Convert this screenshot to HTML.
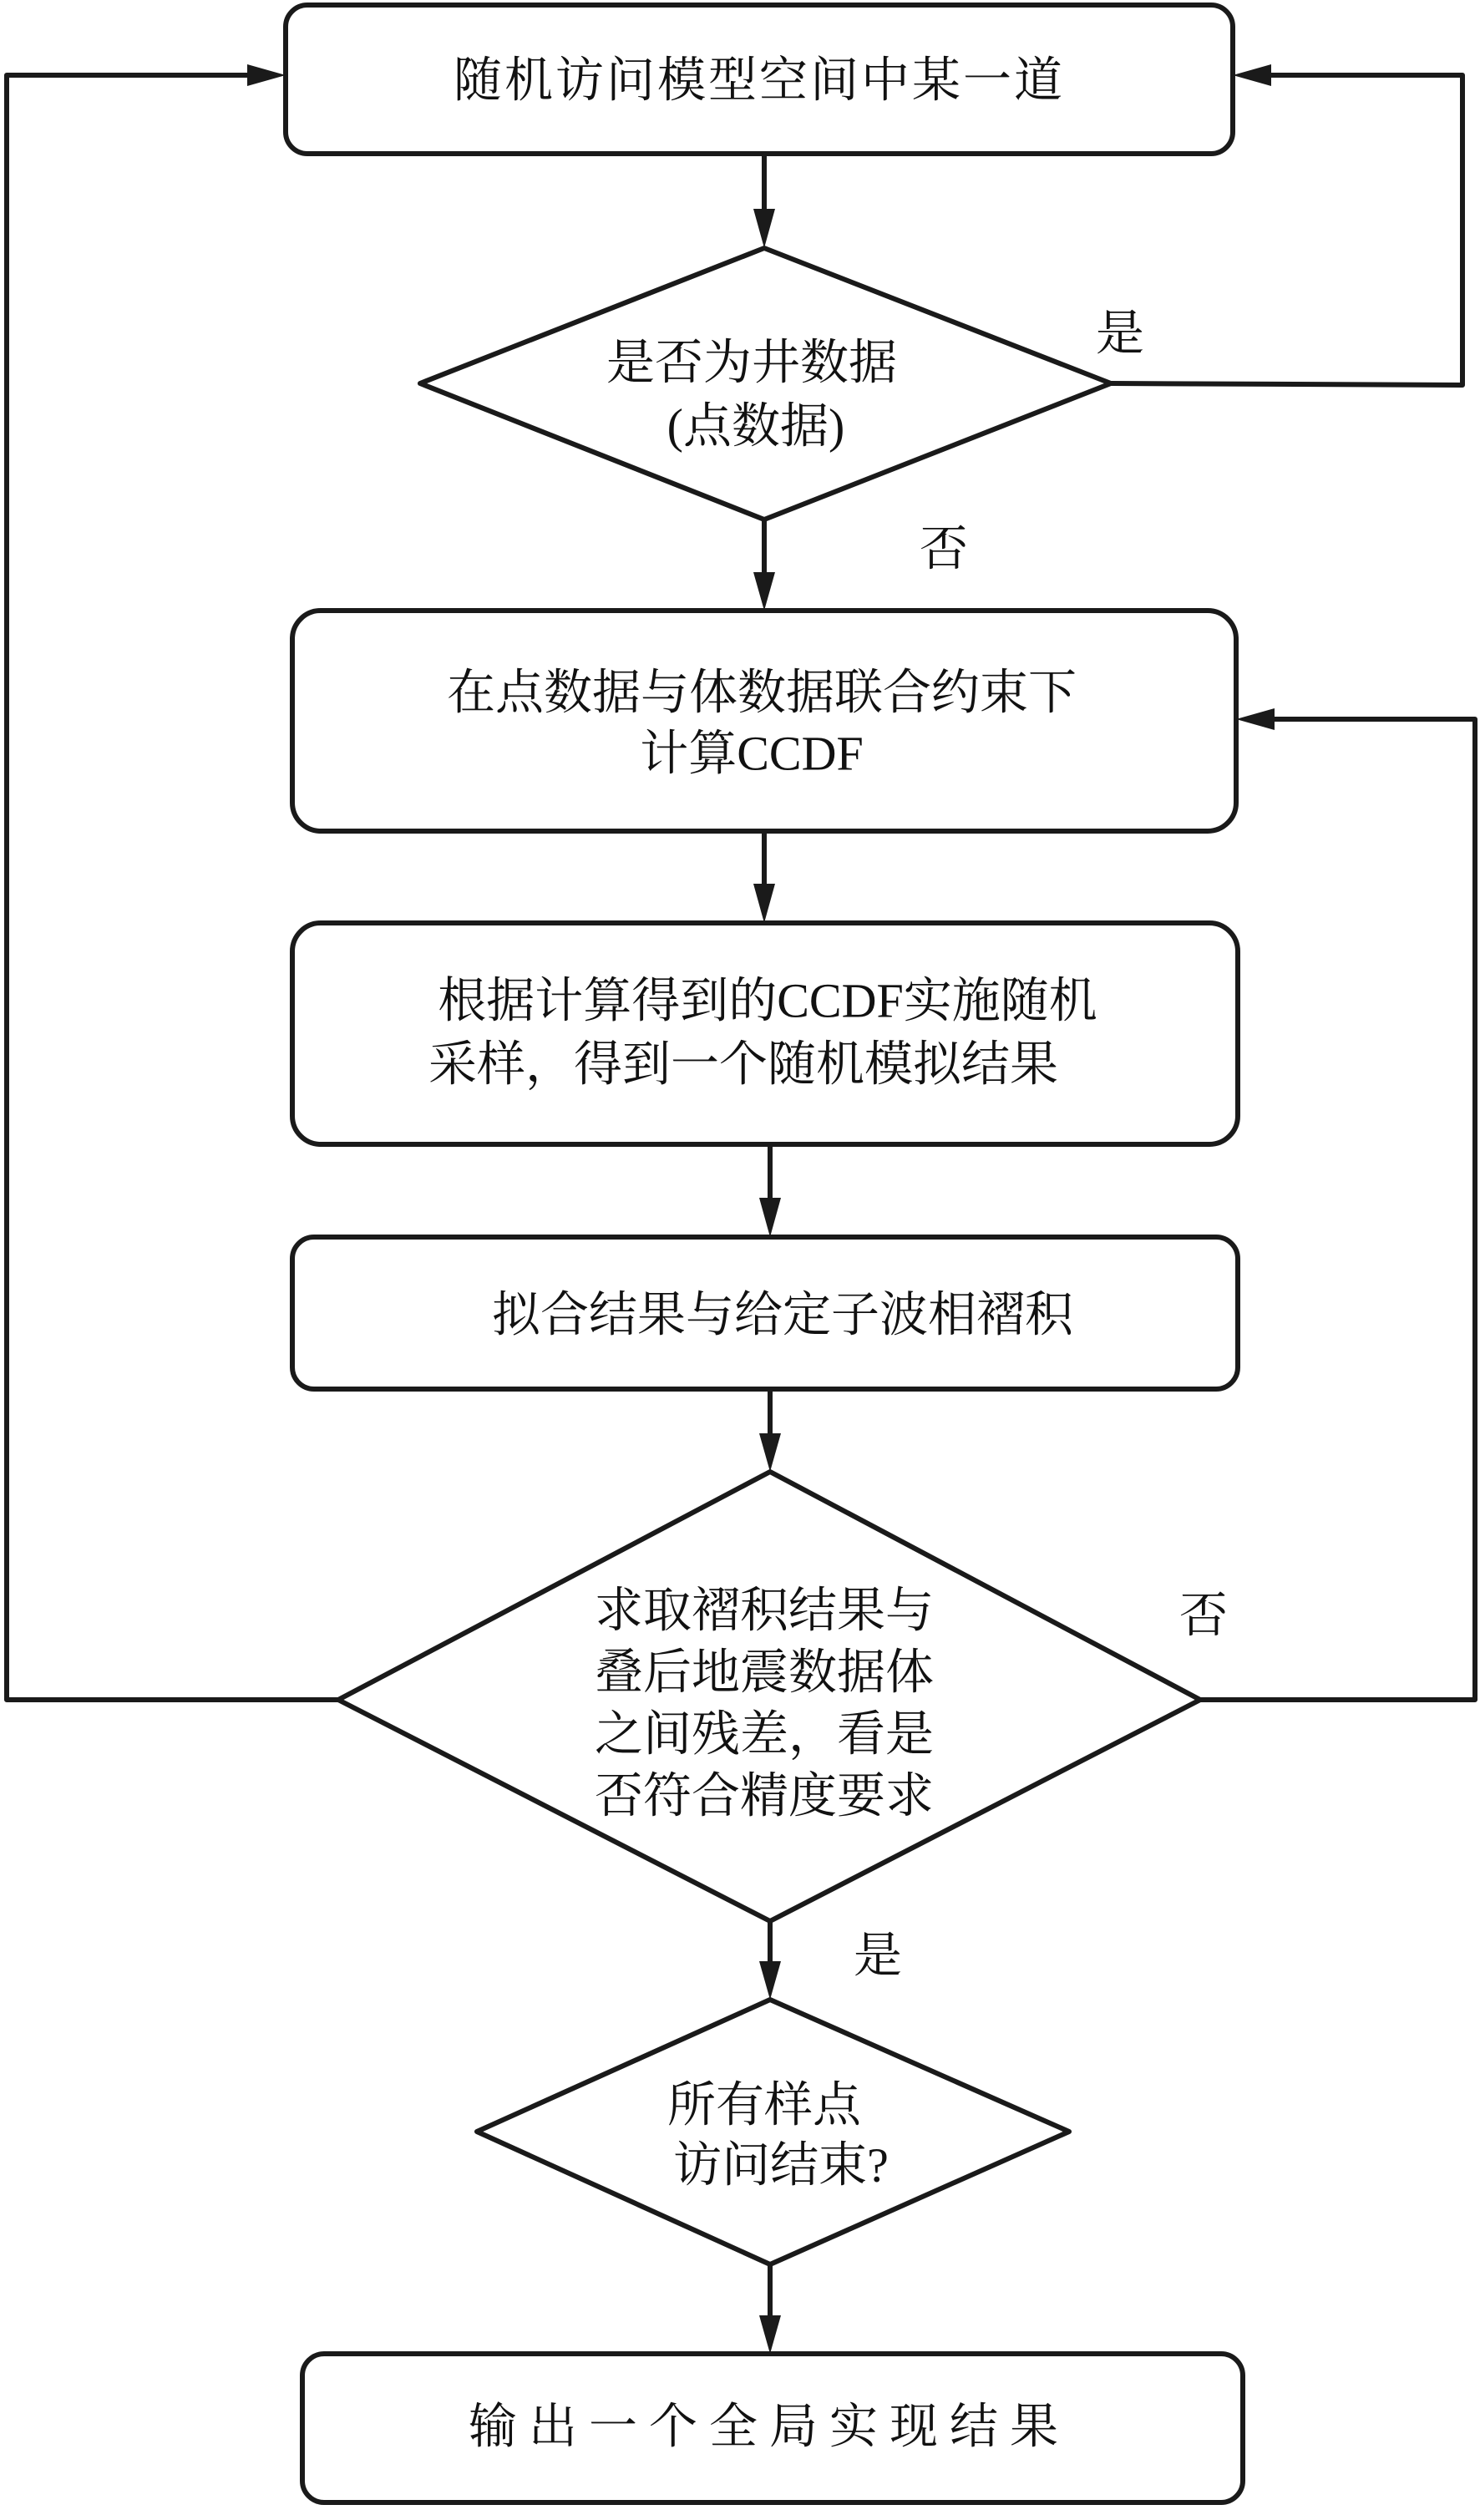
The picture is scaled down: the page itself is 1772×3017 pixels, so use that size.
<!DOCTYPE html>
<html><head><meta charset="utf-8"><style>
html,body{margin:0;padding:0;background:#fff;}
svg{display:block;}
text{font-family:"Liberation Serif","Noto Serif CJK SC",serif;font-size:58px;fill:#111;}
</style></head><body>
<svg width="1772" height="3017" viewBox="0 0 1772 3017" xmlns="http://www.w3.org/2000/svg">
<defs>
<marker id="a" markerWidth="10" markerHeight="10" refX="10" refY="5" orient="auto" markerUnits="userSpaceOnUse" viewBox="0 0 10 10" >
</marker>
</defs>
<g fill="none" stroke="#1a1a1a" stroke-width="6" stroke-linejoin="round">
<rect x="342" y="6" width="1134" height="178" rx="26"/>
<polygon points="915,297 1330,459 915,622 503,459"/>
<rect x="350" y="731" width="1130" height="264" rx="34"/>
<rect x="350" y="1105" width="1132" height="265" rx="34"/>
<rect x="350" y="1481" width="1132" height="182" rx="26"/>
<polygon points="922,1762 1437,2035 922,2300 405,2035"/>
<polygon points="922,2394 1280,2552 922,2711 571,2552"/>
<rect x="362" y="2818" width="1126" height="178" rx="26"/>
<!-- connectors -->
<line x1="915" y1="184" x2="915" y2="255"/>
<line x1="915" y1="622" x2="915" y2="690"/>
<polyline points="1330,459 1751,461 1751,90 1515,90"/>
<line x1="915" y1="995" x2="915" y2="1063"/>
<line x1="922" y1="1370" x2="922" y2="1440"/>
<line x1="922" y1="1663" x2="922" y2="1722"/>
<polyline points="405,2035 8,2035 8,90 300,90"/>
<polyline points="1437,2035 1766,2035 1766,861 1520,861"/>
<line x1="922" y1="2300" x2="922" y2="2355"/>
<line x1="922" y1="2711" x2="922" y2="2778"/>
</g>
<g fill="#1a1a1a">
<polygon points="902,250 928,250 915,297"/>
<polygon points="902,685 928,685 915,731"/>
<polygon points="902,1058 928,1058 915,1105"/>
<polygon points="909,1434 935,1434 922,1481"/>
<polygon points="909,1716 935,1716 922,1762"/>
<polygon points="909,2348 935,2348 922,2394"/>
<polygon points="909,2772 935,2772 922,2818"/>
<polygon points="296,77 296,103 342,90"/>
<polygon points="1522,77 1522,103 1476,90"/>
<polygon points="1526,848 1526,874 1480,861"/>
</g>
<g text-anchor="middle" dominant-baseline="central">
<text x="909" y="96" letter-spacing="3">随机访问模型空间中某一道</text>
<text x="900" y="434">是否为井数据</text>
<text x="905" y="510">(点数据)</text>
<text x="1341" y="399">是</text>
<text x="1130" y="657">否</text>
<text x="912" y="829">在点数据与体数据联合约束下</text>
<text x="900" y="902">计算CCDF</text>
<text x="919" y="1198">根据计算得到的CCDF实施随机</text>
<text x="890" y="1274">采样，得到一个随机模拟结果</text>
<text x="937" y="1574">拟合结果与给定子波相褶积</text>
<text x="915" y="1928">求取褶积结果与</text>
<text x="915" y="2002">叠后地震数据体</text>
<text x="915" y="2076">之间残差，看是</text>
<text x="915" y="2150">否符合精度要求</text>
<text x="1441" y="1934">否</text>
<text x="1051" y="2341">是</text>
<text x="915" y="2520">所有样点</text>
<text x="935" y="2592">访问结束?</text>
<text x="921" y="2905" letter-spacing="14">输出一个全局实现结果</text>
</g>
</svg>
</body></html>
